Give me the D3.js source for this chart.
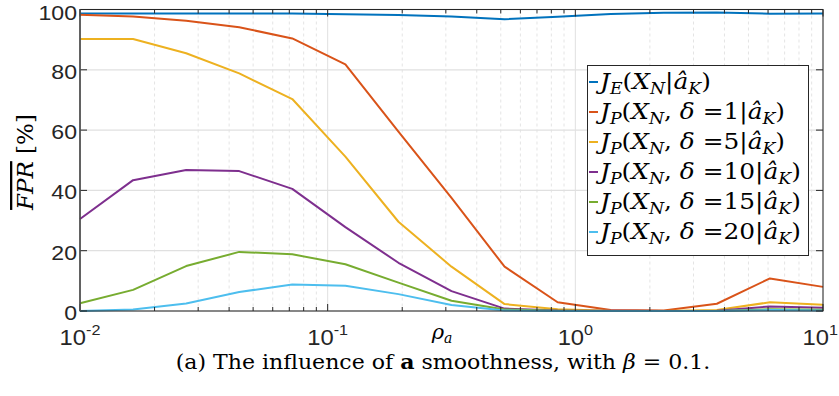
<!DOCTYPE html>
<html>
<head>
<meta charset="utf-8">
<script src="https://cdn.jsdelivr.net/npm/d3@7"></script>
<style>
  html, body { margin: 0; padding: 0; background: #fff; }
  svg { display: block; }
</style>
</head>
<body>
<svg id="chart" width="839" height="396"></svg>
<script>
// Smoothness weight values (log-spaced sweep)
const rho = [0.01, 0.01638, 0.02683, 0.04394, 0.07197, 0.1179, 0.1931, 0.3162,
             0.5179, 0.8483, 1.389, 2.276, 3.728, 6.105, 10];

// Mean false positive rate [%] for each criterion
const fprJE   = [98.7, 98.7, 98.7, 98.7, 98.7, 98.4, 98.2, 97.7, 96.8, 97.6, 98.5, 98.9, 99.0, 98.6, 98.7];
const fprD1   = [98.3, 97.7, 96.3, 94.1, 90.4, 81.8, 59.5, 37.5, 14.7, 2.9, 0.3, 0.2, 2.4, 10.8, 8.0];
const fprD5   = [90.2, 90.2, 85.5, 78.8, 70.3, 51.2, 29.6, 14.7, 2.3, 0.6, 0.1, 0.0, 0.3, 2.9, 2.1];
const fprD10  = [30.5, 43.4, 46.8, 46.4, 40.5, 27.8, 16.0, 6.6, 0.8, 0.2, 0.1, 0.0, 0.1, 1.5, 1.1];
const fprD15  = [2.6, 7.0, 14.9, 19.6, 18.8, 15.5, 9.4, 3.4, 0.5, 0.1, 0.0, 0.0, 0.0, 0.6, 0.4];
const fprD20  = [0.0, 0.5, 2.5, 6.3, 8.8, 8.4, 5.6, 2.0, 0.2, 0.0, 0.0, 0.0, 0.0, 0.3, 0.2];

const deltas = [null, "1", "5", "10", "15", "20"];
const seriesValues = [fprJE, fprD1, fprD5, fprD10, fprD15, fprD20];
const colors = ["#0072BD", "#D95319", "#EDB120", "#7E2F8E", "#77AC30", "#4DBEEE"];

const yTicks = [0, 20, 40, 60, 80, 100];
const xDecades = [0.01, 0.1, 1, 10];
const xExponents = ["-2", "-1", "0", "1"];

const SANS = "'Liberation Sans', Arial, Helvetica, sans-serif";
const SERIF = "'DejaVu Serif', serif";

const svg = d3.select("#chart");
const plotL = 80, plotR = 823, plotT = 9.5, plotB = 311;

const x = d3.scaleLog().domain([0.01, 10]).range([plotL, plotR]);
const y = d3.scaleLinear().domain([0, 100]).range([plotB, plotT]);

// minor decade positions 2..9 × 10^k
const minorTicks = [];
[0.01, 0.1, 1].forEach(d => { for (let m = 2; m <= 9; m++) minorTicks.push(d * m); });

const grid = svg.append("g");
grid.selectAll("line.minor").data(minorTicks).join("line")
  .attr("x1", d => x(d)).attr("x2", d => x(d))
  .attr("y1", plotT).attr("y2", plotB)
  .attr("stroke", "#e4e4e4").attr("stroke-width", 1).attr("stroke-dasharray", "3,3");
grid.selectAll("line.vmaj").data(xDecades).join("line")
  .attr("x1", d => x(d)).attr("x2", d => x(d))
  .attr("y1", plotT).attr("y2", plotB)
  .attr("stroke", "#e0e0e0").attr("stroke-width", 1);
grid.selectAll("line.hmaj").data(yTicks).join("line")
  .attr("x1", plotL).attr("x2", plotR)
  .attr("y1", d => y(d)).attr("y2", d => y(d))
  .attr("stroke", "#e0e0e0").attr("stroke-width", 1.3);

// data lines
const line = d3.line().x((d, i) => x(rho[i])).y(d => y(d));
svg.append("g").selectAll("path").data(seriesValues).join("path")
  .attr("d", d => line(d))
  .attr("fill", "none")
  .attr("stroke", (d, i) => colors[i])
  .attr("stroke-width", 2)
  .attr("stroke-linejoin", "round");

// axes frame and inward ticks
const frame = svg.append("g").attr("stroke", "#262626");
frame.append("rect").attr("x", plotL).attr("y", plotT).attr("width", plotR - plotL).attr("height", plotB - plotT)
  .attr("fill", "none").attr("stroke-width", 1);
frame.selectAll("line.yt").data(yTicks).join("line")
  .attr("x1", plotL).attr("x2", plotL + 7).attr("y1", d => y(d)).attr("y2", d => y(d));
frame.selectAll("line.yt2").data(yTicks).join("line")
  .attr("x1", plotR).attr("x2", plotR - 7).attr("y1", d => y(d)).attr("y2", d => y(d));
frame.selectAll("line.xt").data(xDecades).join("line")
  .attr("x1", d => x(d)).attr("x2", d => x(d)).attr("y1", plotB).attr("y2", plotB - 7);
frame.selectAll("line.xt2").data(xDecades).join("line")
  .attr("x1", d => x(d)).attr("x2", d => x(d)).attr("y1", plotT).attr("y2", plotT + 7);
frame.selectAll("line.xm").data(minorTicks).join("line")
  .attr("x1", d => x(d)).attr("x2", d => x(d)).attr("y1", plotB).attr("y2", plotB - 4);
frame.selectAll("line.xm2").data(minorTicks).join("line")
  .attr("x1", d => x(d)).attr("x2", d => x(d)).attr("y1", plotT).attr("y2", plotT + 4);
// left axis drawn slightly heavier
frame.append("line").attr("x1", plotL).attr("x2", plotL).attr("y1", plotT).attr("y2", plotB)
  .attr("stroke", "#555").attr("stroke-width", 1.5);

// y tick labels
svg.append("g").selectAll("text").data(yTicks).join("text")
  .attr("font-family", SANS).attr("fill", "#262626")
  .attr("transform", d => `translate(${plotL - 3},${Math.max(y(d) + 9, 20)}) scale(1.1,1)`)
  .attr("text-anchor", "end").attr("font-size", 21)
  .text(d => d);

// x tick labels: 10^k (last one kept inside the page edge)
const xl = svg.append("g").selectAll("text").data(xDecades).join("text")
  .attr("font-family", SANS).attr("fill", "#262626")
  .attr("transform", (d, i) => i === xDecades.length - 1
    ? `translate(838,345) scale(1.08,1)` : `translate(${x(d)},345) scale(1.08,1)`)
  .attr("text-anchor", (d, i) => i === xDecades.length - 1 ? "end" : "middle")
  .attr("font-size", 22);
xl.append("tspan").text("10");
xl.append("tspan").attr("dy", -10).attr("font-size", 15).text((d, i) => xExponents[i]);

// x axis label ρ_a
const xlab = svg.append("text").attr("font-family", SERIF)
  .attr("transform", "translate(442,339)")
  .attr("text-anchor", "middle").attr("font-size", 21).attr("font-style", "italic");
xlab.append("tspan").text("ρ");
xlab.append("tspan").attr("dy", 4).attr("font-size", 14).text("a");

// y axis label: overlined FPR [%]
const ylab = svg.append("g").attr("transform", "translate(33,162) rotate(-90)");
const yt = ylab.append("text").attr("font-family", SERIF).attr("text-anchor", "middle").attr("font-size", 23);
yt.append("tspan").attr("font-style", "italic").attr("text-decoration", "overline").text("FPR");
yt.append("tspan").text(" [%]");

// legend
const lg = svg.append("g");
lg.append("rect").attr("x", 587.5).attr("y", 65.5).attr("width", 221).attr("height", 190)
  .attr("fill", "#fff").attr("stroke", "#262626").attr("stroke-width", 1);
const rowY = i => 89 + i * 30;
seriesValues.forEach((s, i) => {
  lg.append("line").attr("x1", 589).attr("x2", 598)
    .attr("y1", rowY(i) - 7).attr("y2", rowY(i) - 7)
    .attr("stroke", colors[i]).attr("stroke-width", 2);
  const t = lg.append("text").attr("font-family", SERIF)
    .attr("transform", `translate(600,${rowY(i)}) scale(1.08,1)`).attr("font-size", 23);
  t.append("tspan").attr("font-style", "italic").text("J");
  t.append("tspan").attr("font-style", "italic").attr("font-size", 16).attr("dy", 5).text(i === 0 ? "E" : "P");
  t.append("tspan").attr("dy", -5).text("(");
  t.append("tspan").attr("font-style", "italic").text("X");
  t.append("tspan").attr("font-style", "italic").attr("font-size", 16).attr("dy", 5).text("N");
  if (deltas[i] !== null) {
    t.append("tspan").attr("dy", -5).text(", ");
    t.append("tspan").attr("font-style", "italic").text("δ");
    t.append("tspan").text(" =" + deltas[i] + "|");
  } else {
    t.append("tspan").attr("dy", -5).text("|");
  }
  t.append("tspan").attr("font-style", "italic").text("â");
  t.append("tspan").attr("font-style", "italic").attr("font-size", 16).attr("dy", 5).text("K");
  t.append("tspan").attr("dy", -5).text(")");
});

// caption
const cap = svg.append("text").attr("font-family", SERIF).attr("fill", "#000")
  .attr("transform", "translate(443,369) scale(1.05,1)")
  .attr("text-anchor", "middle").attr("font-size", 21);
cap.append("tspan").text("(a) The influence of ");
cap.append("tspan").attr("font-weight", "bold").text("a");
cap.append("tspan").text(" smoothness, with ");
cap.append("tspan").attr("font-style", "italic").text("β");
cap.append("tspan").text(" = 0.1.");
</script>
</body>
</html>
